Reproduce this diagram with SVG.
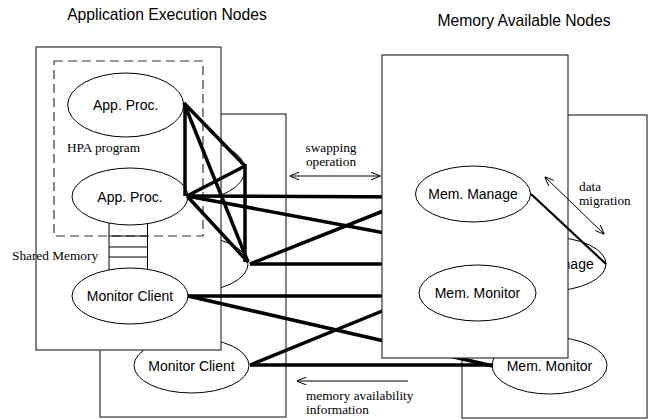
<svg xmlns="http://www.w3.org/2000/svg" width="652" height="419" viewBox="0 0 652 419">
<defs>
<marker id="ah" viewBox="0 0 10 8" refX="9.5" refY="4" markerWidth="10" markerHeight="8" markerUnits="userSpaceOnUse" orient="auto-start-reverse">
<path d="M0,0 L10,4 L0,8" fill="none" stroke="#000" stroke-width="1"/>
</marker>
<style>
.box{fill:#fff;stroke:#333;stroke-width:1.2}
.ell{fill:#fff;stroke:#000;stroke-width:1}
.lbl{font-family:"Liberation Sans",Arial,sans-serif;font-size:14px;text-anchor:middle;fill:#000}
.title{font-family:"Liberation Sans",Arial,sans-serif;font-size:15.7px;text-anchor:middle;fill:#000}
.ser{font-family:"Liberation Serif","Times New Roman",serif;font-size:13.3px;fill:#000}
.thick{stroke:#000;stroke-width:3.5;fill:none;stroke-linecap:butt}
.thin{stroke:#000;stroke-width:1;fill:none}
</style>
</defs>
<rect width="652" height="419" fill="#fff"/>

<text class="title" x="167" y="20">Application Execution Nodes</text>
<text class="title" x="524" y="26">Memory Available Nodes</text>

<!-- back left node -->
<g id="app-node-back">
<rect class="box" x="100" y="114" width="186" height="303"/>
<ellipse class="ell" cx="187" cy="170" rx="58" ry="31"/>
<ellipse class="ell" cx="190" cy="264" rx="58" ry="28"/>
<ellipse class="ell" cx="191.5" cy="365.5" rx="57.5" ry="27.5"/>
<text class="lbl" x="191.5" y="370.5">Monitor Client</text>
</g>

<!-- back right node -->
<g id="mem-node-back">
<rect class="box" x="462" y="115" width="185" height="303"/>
<ellipse class="ell" cx="549" cy="264" rx="57" ry="27"/>
<text class="lbl" x="549" y="269">Mem. Manage</text>
<ellipse class="ell" cx="549.5" cy="365.5" rx="57.5" ry="28.5"/>
<text class="lbl" x="549.5" y="370.5">Mem. Monitor</text>
</g>

<!-- front left node -->
<g id="app-node-front">
<rect class="box" x="36" y="47" width="185" height="303"/>
<rect x="54" y="61" width="149" height="175" fill="none" stroke="#333" stroke-width="1.2" stroke-dasharray="9,5"/>
<g id="shared-memory">
<line class="thin" x1="109" y1="222" x2="109" y2="270"/>
<line class="thin" x1="147.5" y1="222" x2="147.5" y2="270"/>
<line class="thin" x1="109" y1="236" x2="147.5" y2="236"/>
<line class="thin" x1="109" y1="247" x2="147.5" y2="247"/>
<line class="thin" x1="109" y1="257" x2="147.5" y2="257"/>
</g>
<ellipse class="ell" cx="125.7" cy="105" rx="58" ry="32"/>
<text class="lbl" x="125.7" y="110">App. Proc.</text>
<ellipse class="ell" cx="130" cy="196.5" rx="58" ry="28.5"/>
<text class="lbl" x="130" y="201.5">App. Proc.</text>
<ellipse class="ell" cx="130" cy="296" rx="58" ry="28"/>
<text class="lbl" x="130" y="301">Monitor Client</text>
<text class="ser" x="67" y="152">HPA program</text>
<text class="ser" x="12" y="260">Shared Memory</text>
</g>

<g id="connectors">
<line class="thick" x1="185" y1="103" x2="185" y2="196"/>
<line class="thick" x1="184" y1="103" x2="245" y2="166"/>
<line class="thick" x1="184" y1="103" x2="248" y2="262"/>
<line class="thick" x1="187" y1="196" x2="245" y2="166"/>
<line class="thick" x1="245" y1="164" x2="245" y2="262"/>
<line class="thick" x1="187" y1="196" x2="248" y2="262"/>
<line class="thick" x1="187" y1="196" x2="416" y2="197"/>
<line class="thick" x1="187" y1="196" x2="492" y2="253"/>
<line class="thick" x1="250" y1="264" x2="492" y2="264"/>
<line class="thick" x1="250" y1="264" x2="416" y2="198"/>
<line class="thick" x1="188" y1="296" x2="419" y2="296"/>
<line class="thick" x1="188" y1="296" x2="493" y2="366"/>
<line class="thick" x1="419" y1="296" x2="250" y2="365"/>
<line class="thick" x1="250" y1="365" x2="493" y2="365"/>
<line class="thin" x1="290" y1="176" x2="380" y2="176" marker-start="url(#ah)" marker-end="url(#ah)"/>
<line class="thin" x1="408" y1="381" x2="297" y2="381" marker-end="url(#ah)"/>
</g>

<!-- front right node -->
<g id="mem-node-front">
<rect class="box" x="382" y="55" width="186" height="303"/>
<ellipse class="ell" cx="473" cy="194" rx="57.5" ry="28"/>
<text class="lbl" x="473" y="199">Mem. Manage</text>
<ellipse class="ell" cx="477.5" cy="293" rx="58.5" ry="28"/>
<text class="lbl" x="477.5" y="298">Mem. Monitor</text>
</g>

<g id="connectors-front">
<line stroke="#000" stroke-width="2.2" x1="531" y1="194" x2="606" y2="264"/>
<line class="thin" x1="545" y1="177" x2="604" y2="234" marker-start="url(#ah)" marker-end="url(#ah)"/>
</g>

<g id="labels">
<text class="ser" x="331" y="152" text-anchor="middle">swapping</text>
<text class="ser" x="331" y="166" text-anchor="middle">operation</text>
<text class="ser" x="579" y="191">data</text>
<text class="ser" x="579" y="205">migration</text>
<text class="ser" x="306" y="400">memory availability</text>
<text class="ser" x="306" y="414">information</text>
</g>
</svg>
